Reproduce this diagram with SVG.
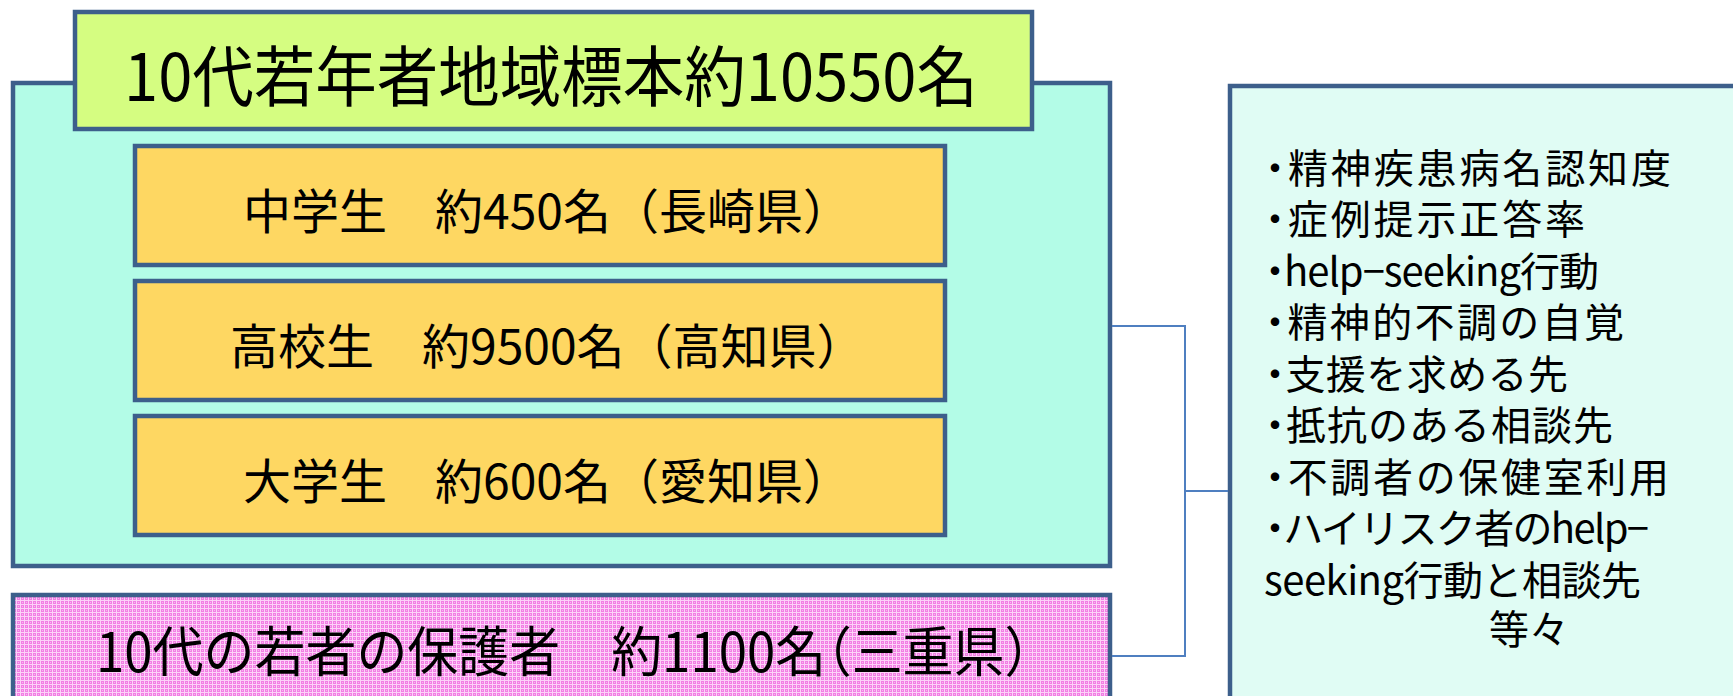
<svg xmlns="http://www.w3.org/2000/svg" width="1733" height="696" viewBox="0 0 1733 696">
<defs>
<pattern id="pinkdots" width="4" height="4" patternUnits="userSpaceOnUse">
<rect width="4" height="4" fill="#f27fe4"/>
<rect x="0" y="0" width="4" height="1" fill="#fcd2f8"/>
<rect x="0" y="0" width="1" height="4" fill="#fcd2f8"/>
<rect x="2" y="2" width="1" height="1" fill="#fab4f2"/>
</pattern>
<style>
.box{stroke:#3d5f8b;stroke-width:4.5}
.big{font-family:"Noto Sans CJK JP","Noto Sans",sans-serif;fill:#000}
.mid{font-family:"Noto Sans CJK JP","Noto Sans",sans-serif;font-size:48px;fill:#000}
.list{font-family:"Noto Sans CJK JP","Noto Sans",sans-serif;font-size:40px;fill:#000;font-feature-settings:"halt"}
.halt{font-feature-settings:"halt"}
.conn{fill:none;stroke:#4f7fc0;stroke-width:2}
</style>
</defs>
<rect width="1733" height="696" fill="#ffffff"/>
<g id="cohort">
<rect class="box" x="13" y="83" width="1097" height="483" fill="#b3fce7"/>
</g>
<g id="title">
<rect class="box" x="75" y="12" width="957" height="117" fill="#d5fd81"/>
<text class="big" x="124" y="101" font-size="66" textLength="854" lengthAdjust="spacingAndGlyphs">10代若年者地域標本約10550名</text>
</g>
<g id="junior-high">
<rect class="box" x="135" y="146" width="810" height="119" fill="#fed762"/>
<text class="mid" x="243" y="229">中学生　約450名（長崎県）</text>
</g>
<g id="high-school">
<rect class="box" x="135" y="281" width="810" height="119" fill="#fed762"/>
<text class="mid" x="230" y="364">高校生　約9500名（高知県）</text>
</g>
<g id="university">
<rect class="box" x="135" y="416" width="810" height="119" fill="#fed762"/>
<text class="mid" x="243" y="499">大学生　約600名（愛知県）</text>
</g>
<g id="guardians">
<rect class="box" x="13" y="595" width="1097" height="120" fill="url(#pinkdots)"/>
<text class="big halt" x="96" y="672" font-size="54" textLength="934" lengthAdjust="spacingAndGlyphs">10代の若者の保護者　約1100名（三重県）</text>
</g>
<g id="measures">
<rect class="box" x="1230" y="86" width="520" height="640" fill="#e0fcf4"/>
<text class="list" x="1265" y="183" textLength="406">・精神疾患病名認知度</text>
<text class="list" x="1265" y="234" textLength="320">・症例提示正答率</text>
<text class="list" x="1265" y="286" textLength="334">・help−seeking行動</text>
<text class="list" x="1265" y="337" textLength="359">・精神的不調の自覚</text>
<text class="list" x="1265" y="389" textLength="303">・支援を求める先</text>
<text class="list" x="1265" y="440" textLength="348">・抵抗のある相談先</text>
<text class="list" x="1265" y="492" textLength="404">・不調者の保健室利用</text>
<text class="list" x="1265" y="543" textLength="384">・ハイリスク者のhelp−</text>
<text class="list" x="1264" y="595" textLength="377">seeking行動と相談先</text>
<text class="list" x="1489" y="644">等々</text>
</g>
<g id="connectors">
<path class="conn" d="M1112,326 H1185 V656 H1112"/>
<path class="conn" d="M1185,491 H1228"/>
</g>
</svg>
